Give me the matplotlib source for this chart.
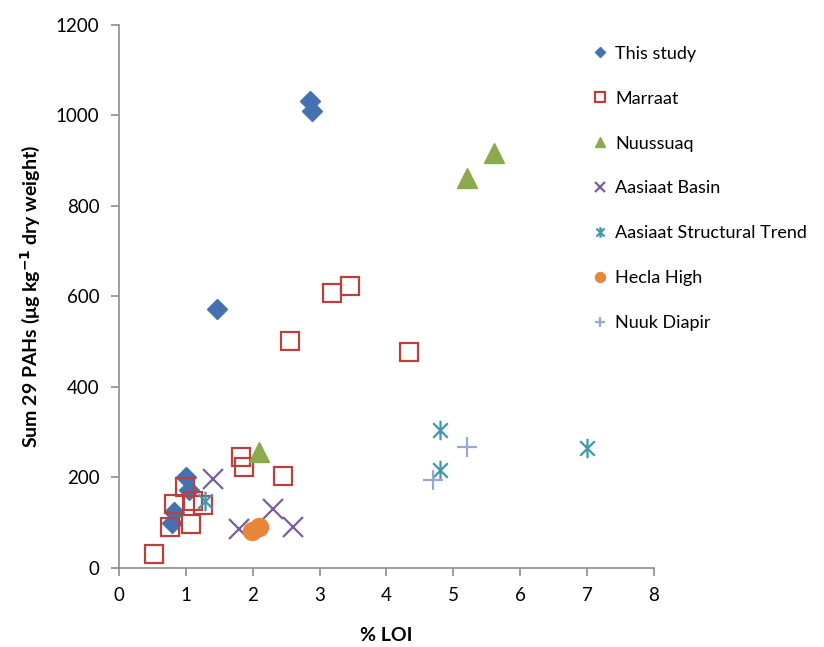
import matplotlib
matplotlib.use("Agg")
import matplotlib.pyplot as plt
from matplotlib.path import Path

plt.rcParams['font.family'] = ['Lato', 'DejaVu Sans']

# % LOI / Sum 29 PAHs values
study_x = [2.85, 2.88, 1.47, 1.00, 1.05, 0.82, 0.80]
study_y = [1032, 1010, 572, 202, 172, 124, 99]

marraat_x = [0.53, 0.77, 1.08, 0.83, 1.11, 1.25, 0.98, 1.82, 1.87, 2.45, 2.56, 3.18, 3.45, 4.33]
marraat_y = [32, 90, 97, 141, 149, 139, 178, 245, 224, 203, 502, 608, 624, 477]

nuussuaq_x = [5.20, 5.60, 2.10]
nuussuaq_y = [862, 918, 257]

basin_x = [1.40, 1.80, 2.30, 2.60]
basin_y = [197, 86, 130, 90]

trend_x = [1.29, 4.80, 4.80, 7.00]
trend_y = [147, 305, 217, 265]

hecla_x = [1.99, 2.10]
hecla_y = [82, 90]

nuuk_x = [5.20, 4.69]
nuuk_y = [267, 194]

# Excel style asterisk: vertical bar plus an x
star = Path([(0, -1), (0, 1), (-0.75, -0.75), (0.75, 0.75), (-0.75, 0.75), (0.75, -0.75)],
            [Path.MOVETO, Path.LINETO, Path.MOVETO, Path.LINETO, Path.MOVETO, Path.LINETO])

fig = plt.figure(figsize=(8.24, 6.47), dpi=100)
ax = fig.add_axes([0.1444, 0.1221, 0.6493, 0.8393])

ax.plot(study_x, study_y, 'D', ms=10, color='#4472B0', mec='#4472B0', label='This study')
ax.plot(marraat_x, marraat_y, 's', ms=13, mfc='none', mec='#B9403D', mew=1.6, label='Marraat')
ax.plot(nuussuaq_x, nuussuaq_y, '^', ms=14, color='#8BAA4C', label='Nuussuaq')
ax.plot(basin_x, basin_y, 'x', ms=14, color='#7A5E9A', mew=1.6, label='Aasiaat Basin')
ax.plot(trend_x, trend_y, marker=star, ls='none', ms=14, color='#3B9AB0', mew=1.6,
        label='Aasiaat Structural Trend')
ax.plot(hecla_x, hecla_y, 'o', ms=13, color='#E8873A', label='Hecla High')
ax.plot(nuuk_x, nuuk_y, '+', ms=14, color='#97A9D2', mew=1.6, label='Nuuk Diapir')

ax.set_xlim(0, 8)
ax.set_ylim(0, 1200)
ax.set_xticks(range(0, 9))
ax.set_yticks(range(0, 1201, 200))

for s in ['top', 'right']:
    ax.spines[s].set_visible(False)
for s in ['left', 'bottom']:
    ax.spines[s].set_color('#8C8C8C')
    ax.spines[s].set_linewidth(1.2)
ax.tick_params(axis='both', direction='out', length=6, width=1.2, color='#8C8C8C',
               labelsize=13.5, labelcolor='black', pad=8)

ax.set_xlabel('% LOI', fontsize=14, fontweight='bold', labelpad=16)
ax.set_ylabel('Sum 29 PAHs (μg kg$^{\\mathbf{-1}}$ dry weight)', fontsize=14,
              fontweight='bold', labelpad=10)

leg = ax.legend(loc='upper left', bbox_to_anchor=(0.872, 0.975), frameon=False, fontsize=13,
                markerscale=0.55, handlelength=0.8, handletextpad=0.45, labelspacing=1.6,
                borderaxespad=0)
leg.set_clip_on(False)

fig.savefig('out.png', dpi=100)
